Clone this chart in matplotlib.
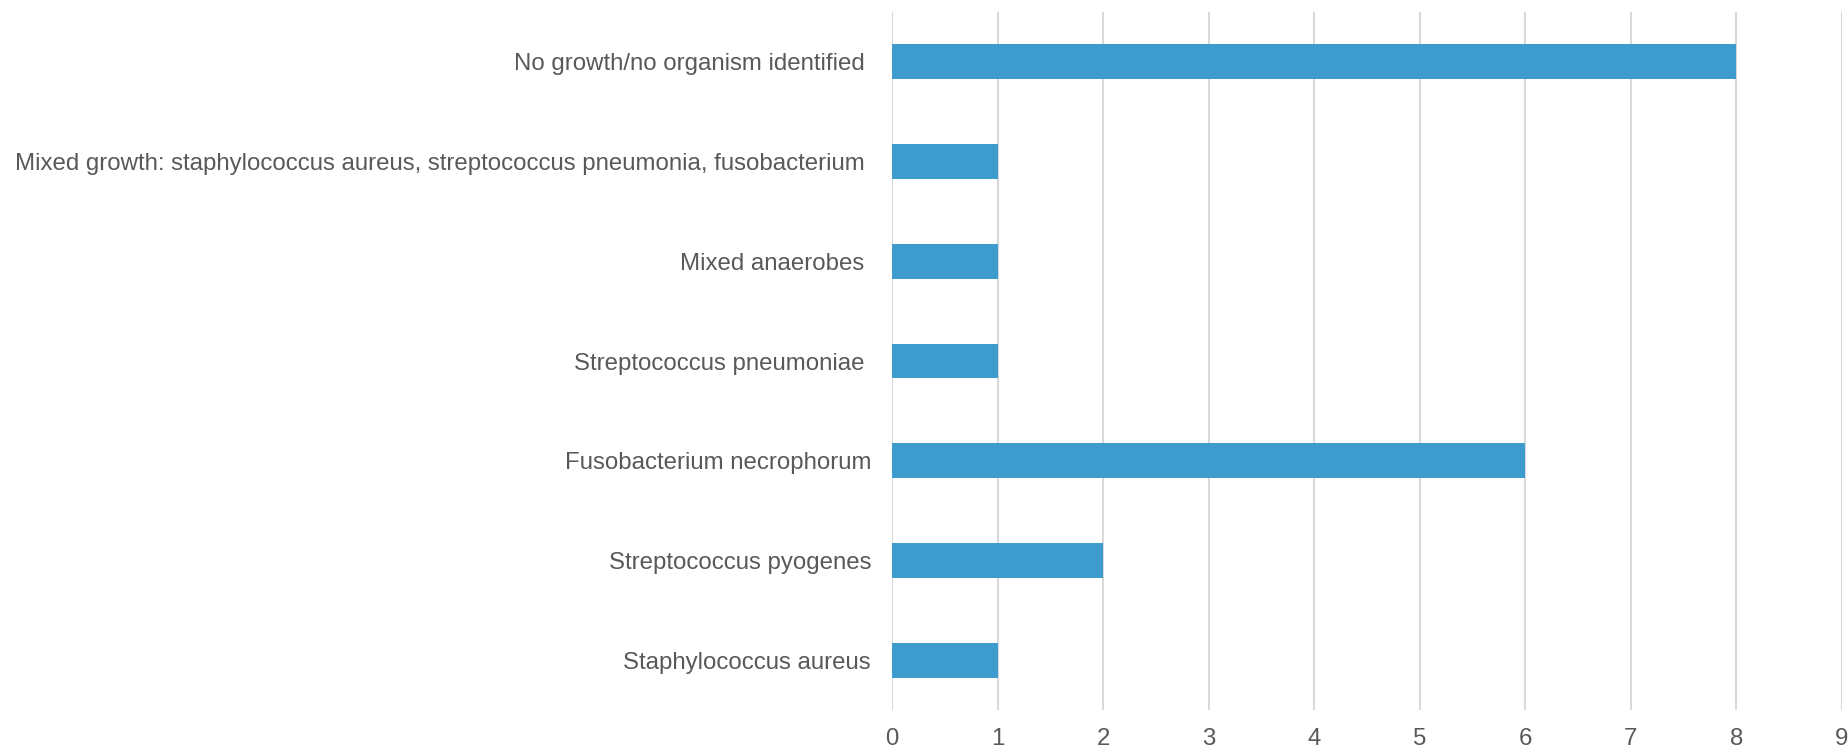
import matplotlib.pyplot as plt

plt.rcParams['font.family'] = ['Liberation Sans', 'DejaVu Sans']

# organisms listed bottom to top
organisms = [
    "Staphylococcus aureus",
    "Streptococcus pyogenes",
    "Fusobacterium necrophorum",
    "Streptococcus pneumoniae ",
    "Mixed anaerobes ",
    "Mixed growth: staphylococcus aureus, streptococcus pneumonia, fusobacterium ",
    "No growth/no organism identified ",
]
counts = [1, 2, 6, 1, 1, 1, 8]
xticks = list(range(0, 10))

bar_color = "#3D9BCE"
text_color = "#595959"
grid_color = "#D9D9D9"

fig = plt.figure(figsize=(18.49, 7.5), dpi=100)
ax = fig.add_axes([0.4824, 0.0533, 0.5138, 0.9307])

ypos = range(len(organisms))
ax.barh(ypos, counts, height=0.35, color=bar_color, zorder=3)

ax.set_xlim(0, 9)
ax.set_ylim(-0.5, len(organisms) - 0.5)
ax.set_xticks(xticks)
ax.set_yticks(list(ypos))
ax.set_yticklabels(organisms)

ax.grid(axis="x", color=grid_color, linewidth=1.5, zorder=0)
ax.set_axisbelow(True)
for s in ax.spines.values():
    s.set_visible(False)

ax.tick_params(axis="both", length=0, labelsize=17.3, colors=text_color)
ax.tick_params(axis="y", pad=15)
ax.tick_params(axis="x", pad=13)

fig.savefig("out.png", dpi=100)
